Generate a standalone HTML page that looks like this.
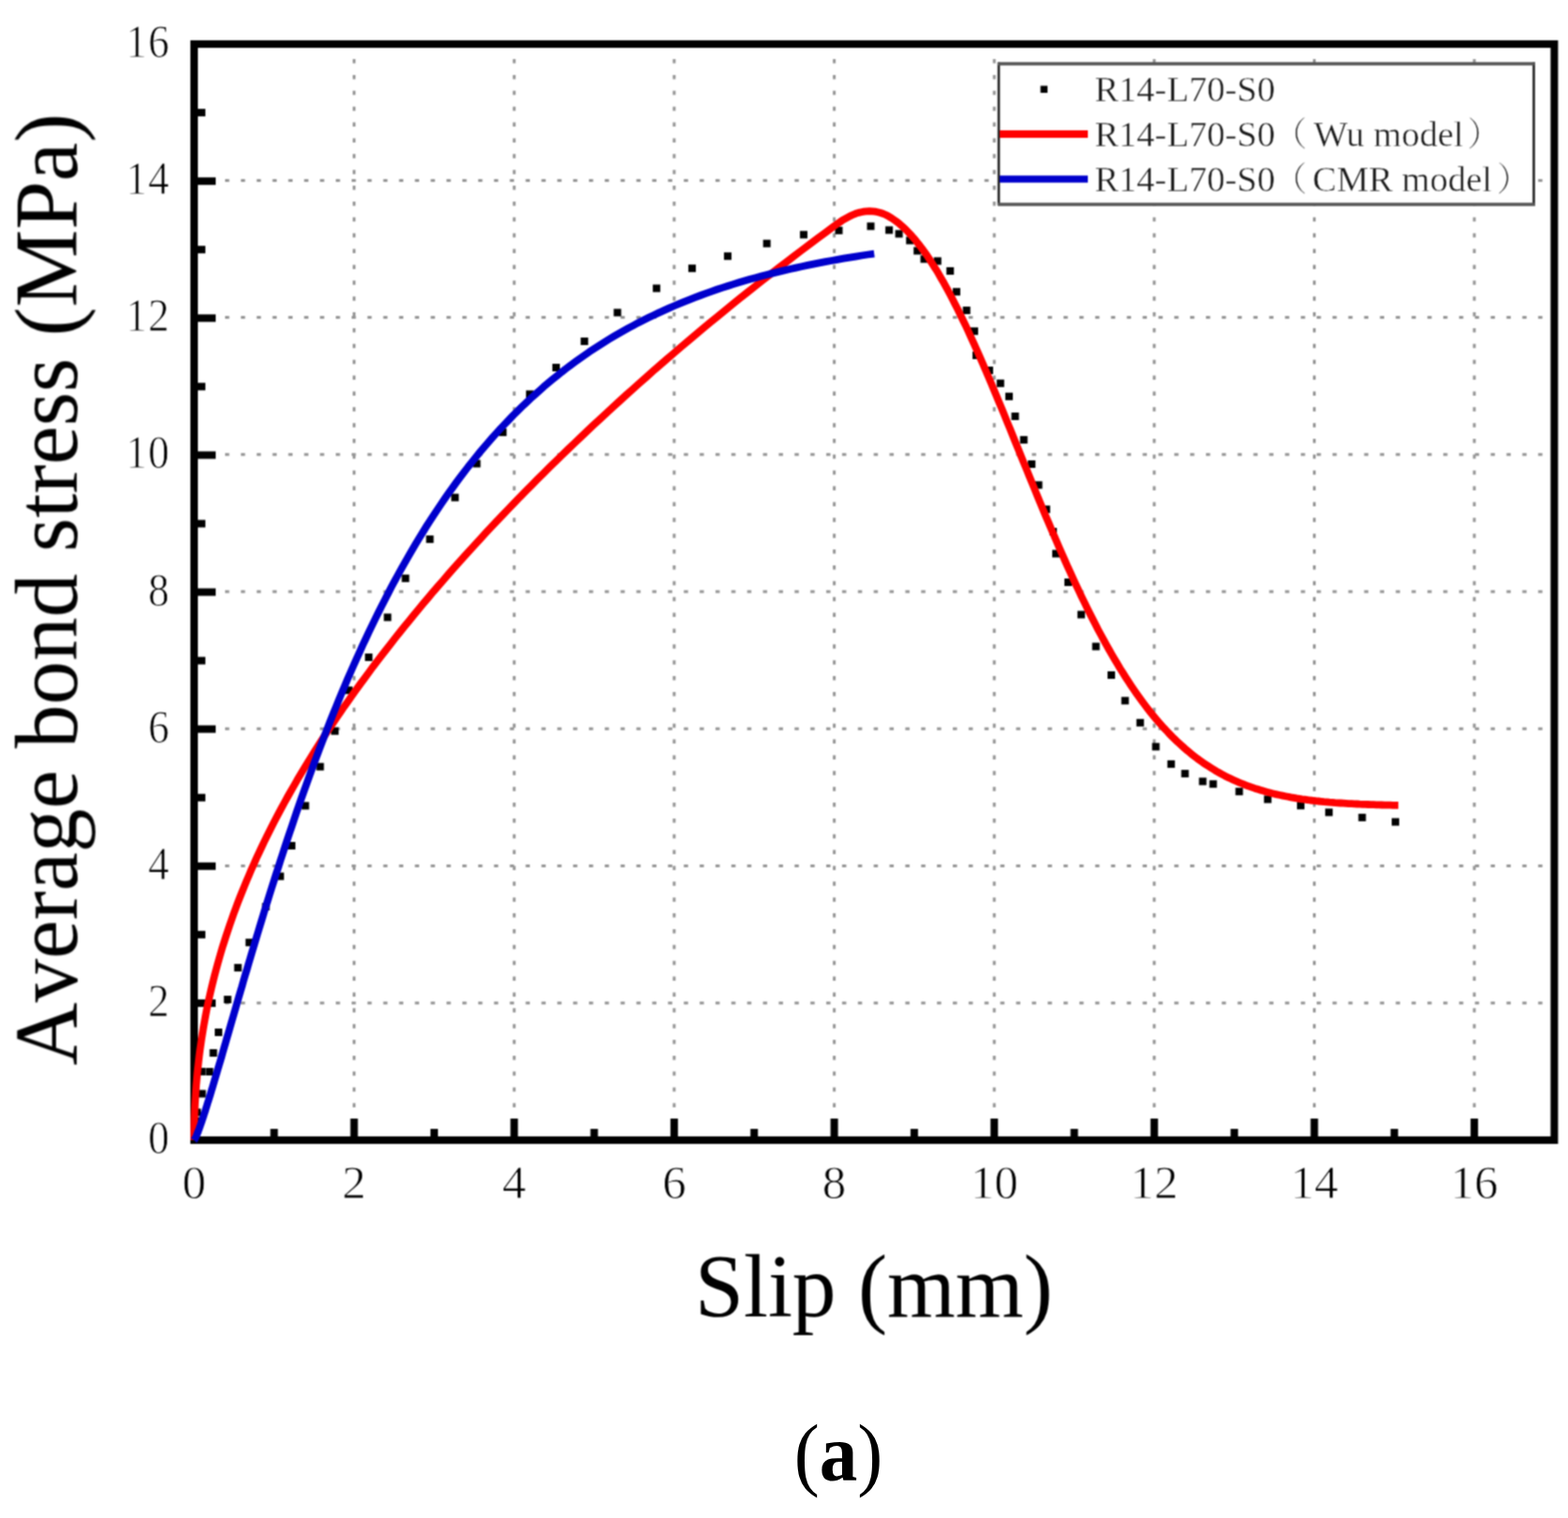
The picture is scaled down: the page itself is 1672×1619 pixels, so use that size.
<!DOCTYPE html>
<html><head><meta charset="utf-8"><title>Bond stress-slip</title>
<style>html,body{margin:0;padding:0;background:#fff;overflow:hidden;}svg{display:block;}</style></head>
<body>
<svg width="1672" height="1619" viewBox="0 0 1672 1619">
<rect width="1672" height="1619" fill="#fff"/>
<defs><filter id="soft" color-interpolation-filters="sRGB" filterUnits="userSpaceOnUse" x="0" y="0" width="1672" height="1619"><feConvolveMatrix order="3" kernelMatrix="1 2 1 2 4 2 1 2 1" divisor="16" edgeMode="none"/></filter></defs>
<g filter="url(#soft)">
<g stroke="#959595" stroke-width="3" stroke-dasharray="4.5 12.37" stroke-dashoffset="2.25"><line x1="377.6" y1="48.5" x2="377.6" y2="1212" /><line x1="548.3" y1="48.5" x2="548.3" y2="1212" /><line x1="718.9" y1="48.5" x2="718.9" y2="1212" /><line x1="889.6" y1="48.5" x2="889.6" y2="1212" /><line x1="1060.2" y1="48.5" x2="1060.2" y2="1212" /><line x1="1230.8" y1="48.5" x2="1230.8" y2="1212" /><line x1="1401.5" y1="48.5" x2="1401.5" y2="1212" /><line x1="1572.1" y1="48.5" x2="1572.1" y2="1212" /><line x1="208.5" y1="1069.8" x2="1653" y2="1069.8" /><line x1="208.5" y1="923.5" x2="1653" y2="923.5" /><line x1="208.5" y1="777.3" x2="1653" y2="777.3" /><line x1="208.5" y1="631.1" x2="1653" y2="631.1" /><line x1="208.5" y1="484.8" x2="1653" y2="484.8" /><line x1="208.5" y1="338.6" x2="1653" y2="338.6" /><line x1="208.5" y1="192.4" x2="1653" y2="192.4" /></g>
<g stroke="#000" stroke-width="8"><line x1="207.0" y1="1216" x2="207.0" y2="1193"/><line x1="292.3" y1="1216" x2="292.3" y2="1204"/><line x1="377.6" y1="1216" x2="377.6" y2="1193"/><line x1="463.0" y1="1216" x2="463.0" y2="1204"/><line x1="548.3" y1="1216" x2="548.3" y2="1193"/><line x1="633.6" y1="1216" x2="633.6" y2="1204"/><line x1="718.9" y1="1216" x2="718.9" y2="1193"/><line x1="804.2" y1="1216" x2="804.2" y2="1204"/><line x1="889.6" y1="1216" x2="889.6" y2="1193"/><line x1="974.9" y1="1216" x2="974.9" y2="1204"/><line x1="1060.2" y1="1216" x2="1060.2" y2="1193"/><line x1="1145.5" y1="1216" x2="1145.5" y2="1204"/><line x1="1230.8" y1="1216" x2="1230.8" y2="1193"/><line x1="1316.2" y1="1216" x2="1316.2" y2="1204"/><line x1="1401.5" y1="1216" x2="1401.5" y2="1193"/><line x1="1486.8" y1="1216" x2="1486.8" y2="1204"/><line x1="1572.1" y1="1216" x2="1572.1" y2="1193"/><line x1="207" y1="1216.0" x2="230" y2="1216.0"/><line x1="207" y1="1142.9" x2="219" y2="1142.9"/><line x1="207" y1="1069.9" x2="230" y2="1069.9"/><line x1="207" y1="996.8" x2="219" y2="996.8"/><line x1="207" y1="923.8" x2="230" y2="923.8"/><line x1="207" y1="850.7" x2="219" y2="850.7"/><line x1="207" y1="777.6" x2="230" y2="777.6"/><line x1="207" y1="704.6" x2="219" y2="704.6"/><line x1="207" y1="631.5" x2="230" y2="631.5"/><line x1="207" y1="558.5" x2="219" y2="558.5"/><line x1="207" y1="485.4" x2="230" y2="485.4"/><line x1="207" y1="412.3" x2="219" y2="412.3"/><line x1="207" y1="339.3" x2="230" y2="339.3"/><line x1="207" y1="266.2" x2="219" y2="266.2"/><line x1="207" y1="193.2" x2="230" y2="193.2"/><line x1="207" y1="120.1" x2="219" y2="120.1"/><line x1="207" y1="47.0" x2="230" y2="47.0"/></g>
<rect x="207" y="47" width="1450.4" height="1169" fill="none" stroke="#000" stroke-width="8"/>
<g fill="#000"><rect x="205.0" y="1191.6" width="8" height="8"/><rect x="206.2" y="1182.4" width="8" height="8"/><rect x="211.5" y="1162.5" width="8" height="8"/><rect x="219.4" y="1139.0" width="8" height="8"/><rect x="223.5" y="1119.0" width="8" height="8"/><rect x="229.0" y="1097.0" width="8" height="8"/><rect x="238.7" y="1062.0" width="8" height="8"/><rect x="249.7" y="1028.1" width="8" height="8"/><rect x="261.8" y="1001.2" width="8" height="8"/><rect x="279.5" y="963.0" width="8" height="8"/><rect x="294.8" y="930.6" width="8" height="8"/><rect x="307.0" y="898.0" width="8" height="8"/><rect x="321.6" y="855.4" width="8" height="8"/><rect x="337.4" y="813.7" width="8" height="8"/><rect x="353.1" y="775.7" width="8" height="8"/><rect x="367.9" y="732.2" width="8" height="8"/><rect x="389.2" y="697.0" width="8" height="8"/><rect x="409.3" y="654.4" width="8" height="8"/><rect x="428.4" y="612.8" width="8" height="8"/><rect x="454.4" y="571.1" width="8" height="8"/><rect x="481.2" y="526.6" width="8" height="8"/><rect x="504.4" y="490.5" width="8" height="8"/><rect x="532.2" y="457.1" width="8" height="8"/><rect x="560.9" y="416.4" width="8" height="8"/><rect x="589.0" y="388.0" width="8" height="8"/><rect x="619.2" y="360.0" width="8" height="8"/><rect x="654.4" y="329.4" width="8" height="8"/><rect x="696.1" y="303.5" width="8" height="8"/><rect x="734.0" y="282.2" width="8" height="8"/><rect x="772.0" y="269.2" width="8" height="8"/><rect x="813.7" y="255.7" width="8" height="8"/><rect x="853.0" y="246.3" width="8" height="8"/><rect x="890.5" y="241.8" width="8" height="8"/><rect x="924.5" y="237.3" width="8" height="8"/><rect x="944.1" y="241.4" width="8" height="8"/><rect x="954.6" y="245.4" width="8" height="8"/><rect x="966.2" y="252.5" width="8" height="8"/><rect x="974.2" y="263.5" width="8" height="8"/><rect x="981.5" y="272.3" width="8" height="8"/><rect x="995.8" y="274.4" width="8" height="8"/><rect x="1009.2" y="285.0" width="8" height="8"/><rect x="1016.0" y="307.2" width="8" height="8"/><rect x="1026.7" y="327.0" width="8" height="8"/><rect x="1035.0" y="349.2" width="8" height="8"/><rect x="1037.0" y="375.0" width="8" height="8"/><rect x="1051.0" y="391.0" width="8" height="8"/><rect x="1062.8" y="404.8" width="8" height="8"/><rect x="1072.0" y="418.8" width="8" height="8"/><rect x="1078.5" y="440.0" width="8" height="8"/><rect x="1087.7" y="465.1" width="8" height="8"/><rect x="1096.1" y="491.0" width="8" height="8"/><rect x="1103.5" y="513.3" width="8" height="8"/><rect x="1111.8" y="539.2" width="8" height="8"/><rect x="1119.0" y="563.0" width="8" height="8"/><rect x="1122.0" y="586.5" width="8" height="8"/><rect x="1135.0" y="617.0" width="8" height="8"/><rect x="1148.9" y="651.5" width="8" height="8"/><rect x="1164.6" y="685.5" width="8" height="8"/><rect x="1181.0" y="716.0" width="8" height="8"/><rect x="1195.7" y="743.3" width="8" height="8"/><rect x="1211.8" y="766.8" width="8" height="8"/><rect x="1228.5" y="792.4" width="8" height="8"/><rect x="1244.8" y="810.9" width="8" height="8"/><rect x="1259.6" y="821.1" width="8" height="8"/><rect x="1278.5" y="829.4" width="8" height="8"/><rect x="1289.6" y="832.2" width="8" height="8"/><rect x="1317.4" y="840.2" width="8" height="8"/><rect x="1347.8" y="848.5" width="8" height="8"/><rect x="1383.0" y="855.2" width="8" height="8"/><rect x="1413.1" y="862.4" width="8" height="8"/><rect x="1448.5" y="867.9" width="8" height="8"/><rect x="1484.0" y="872.6" width="8" height="8"/></g>
<polyline fill="none" stroke="#ff0000" stroke-width="7.8" stroke-linejoin="round" stroke-linecap="butt" points="207.0,1216.0 207.0,1209.4 207.1,1202.9 207.2,1196.4 207.4,1189.9 207.7,1183.5 208.0,1177.0 208.4,1170.6 208.8,1164.3 209.2,1157.9 209.8,1151.6 210.3,1145.3 211.0,1139.0 211.7,1132.7 212.4,1126.5 213.2,1120.2 214.1,1114.0 215.0,1107.8 216.0,1101.7 217.0,1095.5 218.1,1089.4 219.2,1083.3 220.4,1077.1 221.6,1071.0 222.9,1065.0 224.3,1058.9 225.7,1052.8 227.2,1046.8 228.7,1040.7 230.3,1034.7 231.9,1028.7 233.6,1022.7 235.3,1016.7 237.1,1010.7 239.0,1004.7 240.9,998.7 242.9,992.7 244.9,986.8 247.0,980.8 249.1,974.8 251.3,968.9 253.5,962.9 255.8,957.0 258.2,951.0 260.6,945.1 263.0,939.2 265.6,933.2 268.1,927.3 270.8,921.3 273.4,915.4 276.2,909.5 279.0,903.5 281.8,897.6 284.7,891.7 287.7,885.7 290.7,879.8 293.8,873.8 296.9,867.9 300.1,861.9 303.3,856.0 306.6,850.0 310.0,844.0 313.4,838.1 316.8,832.1 320.4,826.1 323.9,820.1 327.5,814.2 331.2,808.2 335.0,802.2 338.8,796.2 342.6,790.1 346.5,784.1 350.5,778.1 354.5,772.1 358.5,766.0 362.7,760.0 366.8,753.9 371.1,747.9 375.4,741.8 379.7,735.7 384.1,729.6 388.6,723.6 393.1,717.5 397.6,711.3 402.3,705.2 406.9,699.1 411.7,693.0 416.5,686.8 421.3,680.7 426.2,674.5 431.2,668.3 436.2,662.2 441.2,656.0 446.4,649.8 451.5,643.6 456.8,637.4 462.0,631.1 467.4,624.9 472.8,618.7 478.2,612.4 483.7,606.2 489.3,599.9 494.9,593.6 500.6,587.3 506.3,581.1 512.1,574.8 517.9,568.4 523.8,562.1 529.8,555.8 535.8,549.5 541.9,543.1 548.0,536.8 554.1,530.4 560.4,524.1 566.7,517.7 573.0,511.3 579.4,505.0 585.8,498.6 592.3,492.2 598.9,485.8 605.5,479.4 612.2,473.0 618.9,466.6 625.7,460.1 632.5,453.7 639.4,447.3 646.4,440.9 653.4,434.4 660.4,428.0 667.5,421.5 674.7,415.1 681.9,408.6 689.2,402.2 696.5,395.7 703.9,389.3 711.4,382.8 718.9,376.4 726.4,369.9 734.0,363.5 741.7,357.0 749.4,350.6 757.2,344.1 765.0,337.7 772.9,331.2 780.8,324.8 788.8,318.3 796.9,311.9 805.0,305.5 813.2,299.0 821.4,292.6 829.7,286.2 838.0,279.8 846.4,273.4 854.8,267.0 863.3,260.6 871.9,254.2 880.5,247.8 889.1,241.4 897.9,235.2 906.6,230.3 906.6,230.3 909.6,229.0 912.5,227.8 915.4,226.9 918.4,226.2 921.3,225.6 924.2,225.3 927.2,225.2 930.1,225.3 933.1,225.6 936.0,226.2 938.9,227.0 941.9,228.0 944.8,229.3 947.7,230.8 950.7,232.6 953.6,234.6 956.6,236.7 959.5,239.1 962.4,241.7 965.4,244.4 968.3,247.4 971.2,250.5 974.2,253.8 977.1,257.3 980.0,261.0 983.0,264.9 985.9,268.9 988.9,273.1 991.8,277.5 994.7,282.1 997.7,286.8 1000.6,291.6 1003.5,296.7 1006.5,301.8 1009.4,307.1 1012.4,312.6 1015.3,318.2 1018.2,323.9 1021.2,329.7 1024.1,335.7 1027.0,341.7 1030.0,347.9 1032.9,354.2 1035.8,360.6 1038.8,367.1 1041.7,373.6 1044.7,380.3 1047.6,387.0 1050.5,393.8 1053.5,400.7 1056.4,407.6 1059.3,414.6 1062.3,421.6 1065.2,428.7 1068.2,435.8 1071.1,442.9 1074.0,450.1 1077.0,457.3 1079.9,464.5 1082.8,471.7 1085.8,479.0 1088.7,486.2 1091.6,493.4 1094.6,500.6 1097.5,507.8 1100.5,515.0 1103.4,522.1 1106.3,529.3 1109.3,536.4 1112.2,543.4 1115.1,550.4 1118.1,557.4 1121.0,564.3 1124.0,571.2 1126.9,578.0 1129.8,584.8 1132.8,591.5 1135.7,598.1 1138.6,604.7 1141.6,611.1 1144.5,617.6 1147.4,623.9 1150.4,630.1 1153.3,636.3 1156.3,642.4 1159.2,648.4 1162.1,654.3 1165.1,660.1 1168.0,665.8 1170.9,671.5 1173.9,677.0 1176.8,682.4 1179.8,687.8 1182.7,693.0 1185.6,698.1 1188.6,703.2 1191.5,708.1 1194.4,713.0 1197.4,717.7 1200.3,722.3 1203.3,726.9 1206.2,731.3 1209.1,735.6 1212.1,739.9 1215.0,744.0 1217.9,748.0 1220.9,752.0 1223.8,755.8 1226.7,759.5 1229.7,763.2 1232.6,766.7 1235.6,770.2 1238.5,773.5 1241.4,776.8 1244.4,779.9 1247.3,783.0 1250.2,786.0 1253.2,788.9 1256.1,791.7 1259.1,794.4 1262.0,797.0 1264.9,799.6 1267.9,802.0 1270.8,804.4 1273.7,806.7 1276.7,809.0 1279.6,811.1 1282.5,813.2 1285.5,815.2 1288.4,817.1 1291.4,819.0 1294.3,820.8 1297.2,822.6 1300.2,824.2 1303.1,825.8 1306.0,827.4 1309.0,828.9 1311.9,830.3 1314.9,831.7 1317.8,833.0 1320.7,834.3 1323.7,835.5 1326.6,836.7 1329.5,837.8 1332.5,838.9 1335.4,839.9 1338.3,840.9 1341.3,841.8 1344.2,842.7 1347.2,843.6 1350.1,844.4 1353.0,845.2 1356.0,846.0 1358.9,846.7 1361.8,847.4 1364.8,848.0 1367.7,848.6 1370.7,849.2 1373.6,849.8 1376.5,850.4 1379.5,850.9 1382.4,851.4 1385.3,851.8 1388.3,852.3 1391.2,852.7 1394.1,853.1 1397.1,853.5 1400.0,853.8 1403.0,854.2 1405.9,854.5 1408.8,854.8 1411.8,855.1 1414.7,855.3 1417.6,855.6 1420.6,855.8 1423.5,856.1 1426.5,856.3 1429.4,856.5 1432.3,856.7 1435.3,856.9 1438.2,857.1 1441.1,857.2 1444.1,857.4 1447.0,857.5 1449.9,857.7 1452.9,857.8 1455.8,857.9 1458.8,858.0 1461.7,858.1 1464.6,858.2 1467.6,858.3 1470.5,858.4 1473.4,858.5 1476.4,858.6 1479.3,858.7 1482.3,858.7 1485.2,858.8 1488.1,858.9 1491.1,858.9"/>
<polyline fill="none" stroke="#0000cc" stroke-width="7.8" stroke-linejoin="round" stroke-linecap="butt" points="207.0,1216.0 207.0,1216.0 207.1,1215.9 207.1,1215.9 207.2,1215.7 207.4,1215.5 207.5,1215.2 207.7,1214.9 208.0,1214.5 208.2,1214.0 208.5,1213.4 208.8,1212.7 209.2,1211.9 209.6,1211.0 210.0,1210.0 210.4,1209.0 210.9,1207.8 211.4,1206.5 211.9,1205.1 212.5,1203.6 213.0,1201.9 213.7,1200.2 214.3,1198.3 215.0,1196.4 215.7,1194.3 216.5,1192.0 217.2,1189.7 218.0,1187.3 218.9,1184.7 219.7,1182.0 220.6,1179.1 221.5,1176.2 222.5,1173.1 223.5,1169.9 224.5,1166.6 225.5,1163.2 226.6,1159.6 227.7,1155.9 228.8,1152.1 230.0,1148.2 231.2,1144.2 232.4,1140.0 233.7,1135.7 235.0,1131.3 236.3,1126.8 237.6,1122.2 239.0,1117.4 240.4,1112.6 241.8,1107.6 243.3,1102.6 244.8,1097.4 246.3,1092.1 247.9,1086.7 249.5,1081.2 251.1,1075.7 252.7,1070.0 254.4,1064.2 256.1,1058.3 257.9,1052.4 259.6,1046.3 261.4,1040.2 263.3,1034.0 265.1,1027.7 267.0,1021.3 268.9,1014.8 270.9,1008.3 272.9,1001.7 274.9,995.0 276.9,988.3 279.0,981.5 281.1,974.6 283.2,967.7 285.4,960.8 287.6,953.7 289.8,946.7 292.1,939.5 294.3,932.4 296.7,925.2 299.0,917.9 301.4,910.6 303.8,903.3 306.2,896.0 308.7,888.6 311.2,881.2 313.7,873.8 316.2,866.3 318.8,858.9 321.4,851.4 324.1,843.9 326.8,836.4 329.5,828.9 332.2,821.4 335.0,813.9 337.8,806.4 340.6,798.9 343.5,791.4 346.4,783.9 349.3,776.4 352.2,769.0 355.2,761.5 358.2,754.1 361.2,746.7 364.3,739.3 367.4,731.9 370.5,724.6 373.7,717.3 376.9,710.0 380.1,702.8 383.4,695.6 386.6,688.4 390.0,681.3 393.3,674.2 396.7,667.1 400.1,660.1 403.5,653.2 407.0,646.3 410.5,639.4 414.0,632.6 417.5,625.8 421.1,619.1 424.7,612.5 428.4,605.9 432.1,599.4 435.8,592.9 439.5,586.5 443.3,580.1 447.1,573.8 450.9,567.6 454.7,561.4 458.6,555.3 462.5,549.3 466.5,543.3 470.5,537.4 474.5,531.5 478.5,525.8 482.6,520.1 486.7,514.4 490.8,508.9 495.0,503.4 499.1,498.0 503.4,492.6 507.6,487.3 511.9,482.1 516.2,477.0 520.5,471.9 524.9,466.9 529.3,462.0 533.7,457.1 538.2,452.4 542.7,447.7 547.2,443.0 551.8,438.5 556.3,434.0 561.0,429.6 565.6,425.2 570.3,421.0 575.0,416.8 579.7,412.6 584.5,408.6 589.3,404.6 594.1,400.7 598.9,396.8 603.8,393.0 608.7,389.3 613.7,385.7 618.7,382.1 623.7,378.6 628.7,375.1 633.8,371.8 638.9,368.5 644.0,365.2 649.1,362.0 654.3,358.9 659.5,355.9 664.8,352.9 670.1,349.9 675.4,347.1 680.7,344.2 686.1,341.5 691.5,338.8 696.9,336.2 702.4,333.6 707.9,331.1 713.4,328.6 718.9,326.2 724.5,323.9 730.1,321.6 735.8,319.3 741.4,317.1 747.1,315.0 752.9,312.9 758.6,310.8 764.4,308.8 770.2,306.9 776.1,305.0 782.0,303.1 787.9,301.3 793.8,299.6 799.8,297.8 805.8,296.2 811.8,294.5 817.9,292.9 824.0,291.4 830.1,289.9 836.3,288.4 842.4,287.0 848.7,285.6 854.9,284.2 861.2,282.9 867.5,281.6 873.8,280.4 880.2,279.2 886.6,278.0 893.0,276.8 899.5,275.7 906.0,274.6 912.5,273.6 919.0,272.5 925.6,271.5 932.2,270.6"/>
<g font-family='"Liberation Serif", "Times New Roman", serif' font-size="51" fill="#000" stroke="#fff" stroke-width="0.9"><text x="207.0" y="1278.3" text-anchor="middle">0</text><text x="377.6" y="1278.3" text-anchor="middle">2</text><text x="548.3" y="1278.3" text-anchor="middle">4</text><text x="718.9" y="1278.3" text-anchor="middle">6</text><text x="889.6" y="1278.3" text-anchor="middle">8</text><text x="1060.2" y="1278.3" text-anchor="middle">10</text><text x="1230.8" y="1278.3" text-anchor="middle">12</text><text x="1401.5" y="1278.3" text-anchor="middle">14</text><text x="1572.1" y="1278.3" text-anchor="middle">16</text><text transform="translate(182,1230.0) scale(0.88,1)" text-anchor="end" letter-spacing="1.7">0</text><text transform="translate(182,1083.9) scale(0.88,1)" text-anchor="end" letter-spacing="1.7">2</text><text transform="translate(182,937.8) scale(0.88,1)" text-anchor="end" letter-spacing="1.7">4</text><text transform="translate(182,791.6) scale(0.88,1)" text-anchor="end" letter-spacing="1.7">6</text><text transform="translate(182,645.5) scale(0.88,1)" text-anchor="end" letter-spacing="1.7">8</text><text transform="translate(182,499.4) scale(0.88,1)" text-anchor="end" letter-spacing="1.7">10</text><text transform="translate(182,353.3) scale(0.88,1)" text-anchor="end" letter-spacing="1.7">12</text><text transform="translate(182,207.2) scale(0.88,1)" text-anchor="end" letter-spacing="1.7">14</text><text transform="translate(182,61.0) scale(0.88,1)" text-anchor="end" letter-spacing="1.7">16</text></g>
<text transform="translate(81.95,1136.39) rotate(-90) scale(0.9899,1.0024)" font-family='"Liberation Serif", "Times New Roman", serif' font-size="94" style="font-kerning:none">Average bond stress (MPa)</text>
<text transform="translate(740.93,1403.64) scale(0.9947,1.0082)" font-family='"Liberation Serif", "Times New Roman", serif' font-size="94">Slip (mm)</text>
<rect x="1065" y="68" width="570.5" height="150" fill="#fff"/>
<g stroke="#222" stroke-width="2.6"><line x1="1065" y1="66.5" x2="1065" y2="219"/><line x1="1635.5" y1="66.5" x2="1635.5" y2="219"/></g>
<g stroke="#555" stroke-width="3.4"><line x1="1064" y1="68" x2="1637" y2="68"/><line x1="1064" y1="218" x2="1637" y2="218"/></g>
<rect x="1109.5" y="91.5" width="7.5" height="7.5" fill="#000"/>
<line x1="1066" y1="143" x2="1160" y2="143" stroke="#ff0000" stroke-width="8"/>
<line x1="1066" y1="191" x2="1160" y2="191" stroke="#0000cc" stroke-width="7.5"/>
<g font-family='"Liberation Serif", "Times New Roman", serif' font-size="38.5" fill="#1a1a1a" stroke="#fff" stroke-width="0.5"><text x="1167.2" y="107.6">R14-L70-S0</text><text x="1167.2" y="155.8">R14-L70-S0<tspan font-family='"Noto Serif CJK SC", "Liberation Serif", serif' font-weight="300" font-size="36" dx="-2">（</tspan><tspan x="1400.8">Wu model</tspan><tspan font-family='"Noto Serif CJK SC", "Liberation Serif", serif' font-weight="300" font-size="36" x="1564.5">）</tspan></text><text x="1167.2" y="203.6">R14-L70-S0<tspan font-family='"Noto Serif CJK SC", "Liberation Serif", serif' font-weight="300" font-size="36" dx="-2">（</tspan><tspan x="1399.5">CMR model</tspan><tspan font-family='"Noto Serif CJK SC", "Liberation Serif", serif' font-weight="300" font-size="36" x="1596">）</tspan></text></g>
</g>
<text transform="translate(846.65,1579.30) scale(0.9125,0.9737)" font-family='"Liberation Serif", "Times New Roman", serif' font-size="89">(<tspan font-weight="bold">a</tspan>)</text>
</svg>
</body></html>
